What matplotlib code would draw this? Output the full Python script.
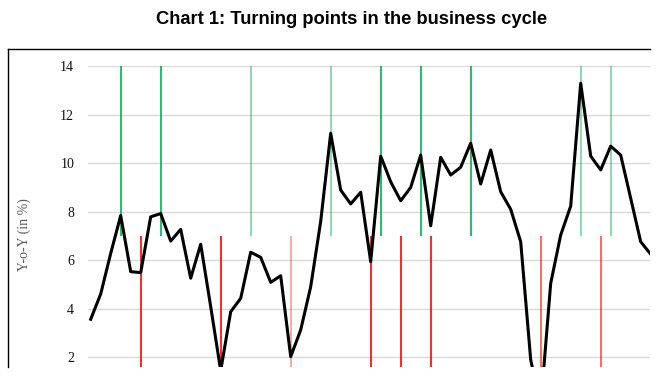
## Chart 1: Turning points in the business cycle - recreated with matplotlib
import numpy as np
import matplotlib
matplotlib.use("Agg")
import matplotlib.pyplot as plt
from matplotlib.lines import Line2D

## Data (y-o-Y growth, in %)
growth = [3.57, 4.61, 6.28, 7.84, 5.53, 5.49, 7.79, 7.92, 6.79, 7.27,
          5.26, 6.66, 4.09, 1.45, 3.88, 4.43, 6.33, 6.12, 5.09, 5.36,
          2.03, 3.13, 4.91, 7.60, 11.23, 8.89, 8.32, 8.80, 5.94, 10.29,
          9.23, 8.45, 9.00, 10.33, 7.42, 10.24, 9.51, 9.83, 10.82, 9.14,
          10.54, 8.82, 8.10, 6.76, 1.90, 0.00, 5.05, 7.04, 8.23, 13.29,
          10.29, 9.72, 10.70, 10.33, 8.55, 6.76, 6.25]

## Turning points (index into growth)
peaks_dark = [3, 7, 29, 33, 38]
peaks_light = [16, 24, 49, 52]
troughs_dark = [5, 13, 28, 31, 34]
troughs_light = [20]
troughs_mid = [45, 51]

yticks = [2, 4, 6, 8, 10, 12, 14]

W, H = 669, 383
fig = plt.figure(figsize=(W / 100, H / 100), dpi=100)

# axes placed in pixel terms so it lines up with the (cropped) reference
left, right, top, bottom = 88, 650, 66, 367
ax = fig.add_axes([left / W, 1 - bottom / H, (right - left) / W, (bottom - top) / H])

x = np.arange(len(growth))
ax.set_xlim((left - 90.7) / 10.0, (right - 90.7) / 10.0)
ax.set_ylim(14 - (bottom - top) / 24.28, 14)

ax.set_yticks(yticks)
ax.grid(axis="y", color="#d9d9d9", linewidth=1.0)
ax.set_axisbelow(True)
ax.set_xticks([])
for s in ax.spines.values():
    s.set_visible(False)
ax.tick_params(axis="y", length=0, pad=10, labelsize=10, labelcolor="#111111")
for lab in ax.get_yticklabels():
    lab.set_family("Liberation Serif")

## Turning point markers: peaks (green) from 7 up to 14, troughs (red) below 7
ax.vlines(peaks_dark, 7, 14, color="#00b050", linewidth=1.2, zorder=2)
ax.vlines(peaks_light, 7, 14, color="#00b050", alpha=0.45, linewidth=1.4, zorder=2)
ax.vlines(troughs_dark, -5, 7, color="#ff0000", linewidth=1.2, zorder=2)
ax.vlines(troughs_light, -5, 7, color="#ff0000", alpha=0.35, linewidth=1.4, zorder=2)
ax.vlines(troughs_mid, -5, 7, color="#ff0000", alpha=0.6, linewidth=1.4, zorder=2)

## Growth line
ax.plot(x, growth, color="black", linewidth=2.2, zorder=3)

ax.set_ylabel("Y-o-Y (in %)", family="Liberation Serif", fontsize=10, color="#595959")
ax.yaxis.set_label_coords((31 - left) / (right - left), 0.44)

## Outer chart frame (cropped on the right and bottom in the reference)
fig.add_artist(Line2D([8 / W, 650 / W], [1 - 49 / H, 1 - 49 / H], color="black", linewidth=1.0))
fig.add_artist(Line2D([8 / W, 8 / W], [1 - 49 / H, 1 - 367 / H], color="black", linewidth=1.0))

fig.text(352 / W, 1 - 19 / H, "Chart 1: Turning points in the business cycle",
         ha="center", va="center", fontsize=13.2, fontweight="bold", family="Liberation Sans")

fig.savefig("out.png", dpi=100)
